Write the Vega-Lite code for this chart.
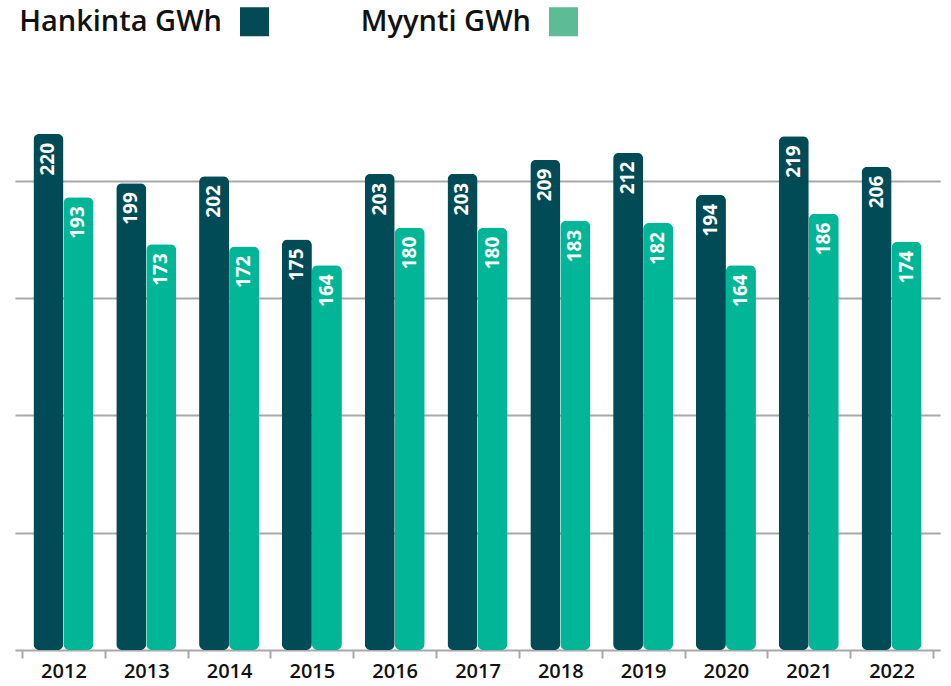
{
  "$schema": "https://vega.github.io/schema/vega-lite/v6.json",
  "autosize": {"type": "none"},
  "width": 925,
  "height": 563,
  "padding": {"left": 15, "top": 87, "right": 11, "bottom": 36},
  "background": "white",
  "config": {"view": {"stroke": null}, "font": "Open Sans"},
  "data": {
    "values": [
      {"year": "2012", "series": "Hankinta GWh", "value": 220},
      {"year": "2012", "series": "Myynti GWh", "value": 193},
      {"year": "2013", "series": "Hankinta GWh", "value": 199},
      {"year": "2013", "series": "Myynti GWh", "value": 173},
      {"year": "2014", "series": "Hankinta GWh", "value": 202},
      {"year": "2014", "series": "Myynti GWh", "value": 172},
      {"year": "2015", "series": "Hankinta GWh", "value": 175},
      {"year": "2015", "series": "Myynti GWh", "value": 164},
      {"year": "2016", "series": "Hankinta GWh", "value": 203},
      {"year": "2016", "series": "Myynti GWh", "value": 180},
      {"year": "2017", "series": "Hankinta GWh", "value": 203},
      {"year": "2017", "series": "Myynti GWh", "value": 180},
      {"year": "2018", "series": "Hankinta GWh", "value": 209},
      {"year": "2018", "series": "Myynti GWh", "value": 183},
      {"year": "2019", "series": "Hankinta GWh", "value": 212},
      {"year": "2019", "series": "Myynti GWh", "value": 182},
      {"year": "2020", "series": "Hankinta GWh", "value": 194},
      {"year": "2020", "series": "Myynti GWh", "value": 164},
      {"year": "2021", "series": "Hankinta GWh", "value": 219},
      {"year": "2021", "series": "Myynti GWh", "value": 186},
      {"year": "2022", "series": "Hankinta GWh", "value": 206},
      {"year": "2022", "series": "Myynti GWh", "value": 174}
    ]
  },
  "encoding": {
    "x": {
      "field": "year", "type": "nominal", "title": null,
      "scale": {"paddingInner": 0, "paddingOuter": 0.085},
      "axis": {
        "labelAngle": 0, "labelFont": "Open Sans", "labelFontSize": 20, "labelFontWeight": 600,
        "labelColor": "#111111", "labelPadding": 3,
        "domainColor": "#a8a8a8", "domainWidth": 2,
        "tickBand": "extent", "tickColor": "#a8a8a8", "tickWidth": 2, "tickSize": 8,
        "grid": false
      }
    },
    "xOffset": {"field": "series", "type": "nominal", "scale": {"paddingInner": 0, "paddingOuter": 0.38}},
    "y": {
      "field": "value", "type": "quantitative", "title": null,
      "scale": {"domain": [0, 240], "nice": false},
      "axis": {
        "values": [50, 100, 150, 200], "labels": false, "ticks": false, "domain": false,
        "grid": true, "gridColor": "#a8a8a8", "gridWidth": 2
      }
    }
  },
  "resolve": {"scale": {"color": "independent"}, "legend": {"color": "independent"}},
  "layer": [
    {
      "mark": {"type": "square", "size": 0, "filled": true},
      "encoding": {
        "color": {
          "field": "series", "type": "nominal",
          "scale": {"domain": ["Hankinta GWh", "Myynti GWh"], "range": ["#034a54", "#5dbb95"]},
          "legend": {
            "title": null, "orient": "none", "legendX": 225, "legendY": -80,
            "direction": "horizontal", "symbolType": "square", "symbolSize": 841,
            "symbolStrokeWidth": 0, "symbolOpacity": 1,
            "labelFont": "Open Sans", "labelFontSize": 29, "labelFontWeight": 600, "labelColor": "#111111",
            "labelAlign": "right", "labelOffset": -47, "labelLimit": 400,
            "columnPadding": 91
          }
        }
      }
    },
    {
      "mark": {"type": "bar", "cornerRadius": 6},
      "encoding": {
        "color": {
          "field": "series", "type": "nominal",
          "scale": {"domain": ["Hankinta GWh", "Myynti GWh"], "range": ["#004b55", "#00b696"]},
          "legend": null
        }
      }
    },
    {
      "mark": {
        "type": "text", "angle": 270, "align": "right", "baseline": "middle",
        "dx": -9, "color": "white", "font": "Open Sans", "fontSize": 19, "fontWeight": "bold"
      },
      "encoding": {"text": {"field": "value", "type": "quantitative"}}
    }
  ]
}
